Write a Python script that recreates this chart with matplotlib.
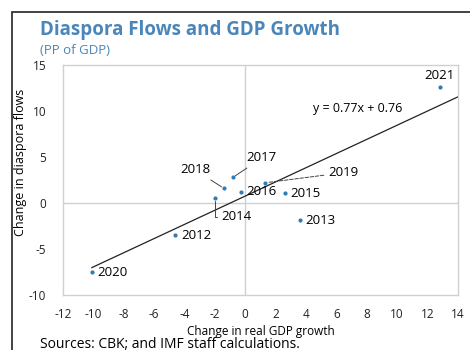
import numpy as np
import matplotlib.pyplot as plt
from matplotlib.patches import Rectangle

plt.rcParams['font.family'] = ['Open Sans', 'DejaVu Sans']
plt.rcParams['axes.unicode_minus'] = False

# Change in real GDP growth vs change in diaspora flows, by year
years = ['2012', '2013', '2014', '2015', '2016', '2017', '2018', '2019', '2020', '2021']
gdp_change = [-4.6, 3.6, -2.0, 2.6, -0.3, -0.8, -1.4, 1.3, -10.1, 12.8]
flow_change = [-3.5, -1.85, 0.5, 1.05, 1.25, 2.8, 1.6, 2.2, -7.5, 12.6]
slope, intercept = 0.77, 0.76

BLUE = '#4a86b9'
DOT = '#2f7cb5'
GRID = '#d0d0d0'
LEAD = '#444444'

fig = plt.figure(figsize=(4.7, 3.5), dpi=100)
ax = fig.add_axes([0.134, 0.157, 0.84, 0.657])

# outer panel frame
fig.patches.append(Rectangle((12 / 470, -0.1), 1.1, 1 - 12 / 350 + 0.1,
                             transform=fig.transFigure, fill=False,
                             edgecolor='#222222', linewidth=1.2))

ax.set_xlim(-12, 14)
ax.set_ylim(-10, 15)
ax.set_xticks(np.arange(-12, 15, 2))
ax.set_yticks([-10, -5, 0, 5, 10, 15])
ax.tick_params(length=0, labelsize=8.5, colors='#222222')
ax.tick_params(axis='x', pad=9)
ax.tick_params(axis='y', pad=12)
for s in ax.spines.values():
    s.set_color(GRID)
    s.set_linewidth(1)
ax.axhline(0, color=GRID, lw=1, zorder=0)
ax.axvline(0, color=GRID, lw=1, zorder=0)

# fitted line
xs = np.array([min(gdp_change), 14])
ax.plot(xs, slope * xs + intercept, color='#222222', lw=0.9, zorder=2)
ax.text(7.4, 10.3, f'y = {slope}x + {intercept}', fontsize=9, ha='center', va='center')

ax.scatter(gdp_change, flow_change, s=4, color=DOT, zorder=3)

pts = dict(zip(years, zip(gdp_change, flow_change)))
fs = 9.5

# plain labels to the right
for yr in ['2012', '2013', '2015', '2016', '2020']:
    x, y = pts[yr]
    ax.annotate(yr, (x, y), xytext=(4, 0), textcoords='offset points',
                fontsize=fs, va='center', ha='left')

ax.annotate('2021', pts['2021'], xytext=(0, 4), textcoords='offset points',
            fontsize=fs, va='bottom', ha='center')

# labels with leader lines
lead = dict(arrowstyle='-', color=LEAD, lw=0.7, shrinkA=1, shrinkB=2)
ax.annotate('2018', pts['2018'], xytext=(-3.3, 3.6), fontsize=fs, ha='center', va='center',
            arrowprops=lead)
ax.annotate('2017', pts['2017'], xytext=(1.1, 4.9), fontsize=fs, ha='center', va='center',
            arrowprops=lead)
ax.annotate('2019', pts['2019'], xytext=(6.45, 3.3), fontsize=fs, ha='center', va='center',
            arrowprops=dict(lead, ls='--'))
ax.annotate('2014', pts['2014'], xytext=(-0.6, -1.5), fontsize=fs, ha='center', va='center',
            arrowprops=dict(lead, connectionstyle='angle,angleA=0,angleB=90,rad=0'))

ax.set_xlabel('Change in real GDP growth', fontsize=8.5, labelpad=3)
ax.set_ylabel('Change in diaspora flows', fontsize=9)
ax.yaxis.set_label_coords(-0.09, 0.578)

fig.text(40 / 470, 1 - 30 / 350, 'Diaspora Flows and GDP Growth', fontsize=13.5,
         fontweight='bold', color=BLUE, va='center', ha='left')
fig.text(40 / 470, 1 - 50 / 350, '(PP of GDP)', fontsize=9.5, color=BLUE,
         va='center', ha='left')
fig.text(40 / 470, 1 - 345 / 350, 'Sources: CBK; and IMF staff calculations.',
         fontsize=10, va='center', ha='left')

fig.savefig('out.png', dpi=100)
